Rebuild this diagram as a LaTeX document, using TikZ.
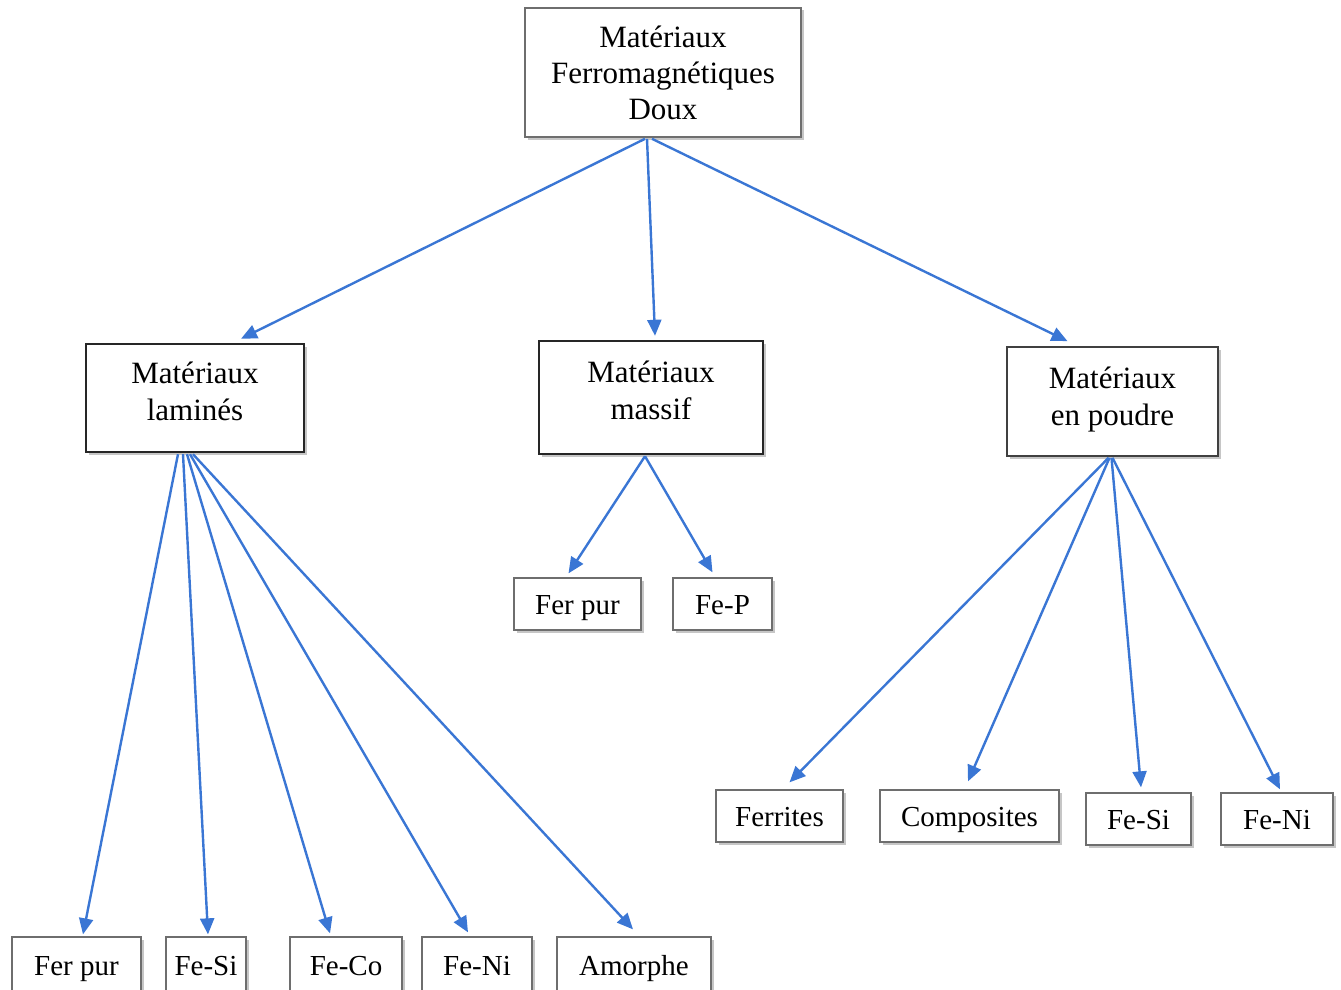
\documentclass[tikz,border=0pt]{standalone}
\usepackage{fontspec}
\setmainfont{Liberation Serif}
\usetikzlibrary{arrows.meta,shadows}
\definecolor{arrowblue}{RGB}{58,118,212}
\definecolor{boxedge}{RGB}{110,110,110}
\newcommand{\twolines}[3]{\raisebox{#1}[0pt][0pt]{\begin{tabular}{@{}c@{}}#2\\#3\end{tabular}}}
\tikzset{
  base/.style={fill=white, inner sep=0pt, align=center, anchor=center,
    drop shadow={shadow xshift=2.5pt, shadow yshift=-2.5pt, opacity=0.45, fill=gray}},
  topbox/.style={base, draw=boxedge, line width=1.6pt, font=\fontsize{31}{36}\selectfont},
  midbox/.style={base, draw=black!85, line width=2.4pt, font=\fontsize{31}{37}\selectfont},
  midboxb/.style={base, draw=black!75, line width=1.7pt, font=\fontsize{31}{37}\selectfont},
  leaf/.style={base, draw=boxedge, line width=1.3pt, font=\fontsize{29}{34}\selectfont,
    text height=25pt, text depth=4pt},
  conn/.style={draw=arrowblue, line width=2.4pt, -{Triangle[length=16pt,width=14pt]}}
}
\begin{document}
\begin{tikzpicture}[x=1pt,y=-1pt]
\useasboundingbox (0,0) rectangle (1341,990);
% top
\node[topbox, minimum width=276pt, minimum height=129pt] (top) at (663,72.5) {Matériaux\\Ferromagnétiques\\Doux};
% middle
\node[midbox, minimum width=218pt, minimum height=108pt] (lam) at (195,398) {\twolines{-3pt}{Matériaux}{laminés}};
\node[midbox, minimum width=224pt, minimum height=113pt] (mas) at (651,397.5) {\twolines{-2pt}{Matériaux}{massif}};
\node[midboxb, minimum width=211pt, minimum height=109pt] (pou) at (1112.5,401.5) {\twolines{-4pt}{Matériaux}{en poudre}};
% bottom row (laminés)
\node[leaf, minimum width=129pt, minimum height=55pt] (l1) at (76.5,964.5) {Fer pur};
\node[leaf, minimum width=80pt, minimum height=55pt] (l2) at (206,964.5) {Fe-Si};
\node[leaf, minimum width=112pt, minimum height=55pt] (l3) at (346,964.5) {Fe-Co};
\node[leaf, minimum width=110pt, minimum height=55pt] (l4) at (477,964.5) {Fe-Ni};
\node[leaf, minimum width=154pt, minimum height=55pt] (l5) at (634,964.5) {Amorphe};
% massif children
\node[leaf, minimum width=127pt, minimum height=52pt] (m1) at (577.5,604) {Fer pur};
\node[leaf, minimum width=99pt, minimum height=52pt] (m2) at (722.5,604) {Fe-P};
% poudre children
\node[leaf, minimum width=127pt, minimum height=52pt] (p1) at (779.5,816) {Ferrites};
\node[leaf, minimum width=179pt, minimum height=52pt] (p2) at (969.5,816) {Composites};
\node[leaf, minimum width=105pt, minimum height=52pt] (p3) at (1138.5,819) {Fe-Si};
\node[leaf, minimum width=112pt, minimum height=52pt] (p4) at (1277,819) {Fe-Ni};
% connectors from top
\draw[conn] ([xshift=-18pt,yshift=-1pt]top.south) -- ([xshift=46pt,yshift=4pt]lam.north);
\draw[conn] ([xshift=-16pt,yshift=-1pt]top.south) -- ([xshift=4pt,yshift=4pt]mas.north);
\draw[conn] ([xshift=-11pt,yshift=-1pt]top.south) -- ([xshift=-45pt,yshift=5pt]pou.north);
% laminés
\draw[conn] ([xshift=-17pt,yshift=-1pt]lam.south) -- ([xshift=6.5pt,yshift=2pt]l1.north);
\draw[conn] ([xshift=-12pt,yshift=-1pt]lam.south) -- ([xshift=2pt,yshift=2pt]l2.north);
\draw[conn] ([xshift=-8pt,yshift=-1pt]lam.south) -- ([xshift=-16pt,yshift=3pt]l3.north);
\draw[conn] ([xshift=-5pt,yshift=-1pt]lam.south) -- ([xshift=-9pt,yshift=4pt]l4.north);
\draw[conn] ([xshift=-2pt,yshift=-1pt]lam.south) -- ([xshift=-1pt,yshift=7pt]l5.north);
% massif
\draw[conn] ([xshift=-6pt,yshift=-1pt]mas.south) -- ([xshift=-9pt,yshift=4pt]m1.north);
\draw[conn] ([xshift=-6pt,yshift=-1pt]mas.south) -- ([xshift=-10pt,yshift=5pt]m2.north);
% poudre
\draw[conn] ([xshift=-4pt,yshift=-1pt]pou.south) -- ([xshift=10pt,yshift=7pt]p1.north);
\draw[conn] ([xshift=-3pt,yshift=-1pt]pou.south) -- ([xshift=-1.5pt,yshift=8pt]p2.north);
\draw[conn] ([xshift=-1pt,yshift=-1pt]pou.south) -- ([xshift=2.5pt,yshift=5pt]p3.north);
\draw[conn] ([xshift=0pt,yshift=-1pt]pou.south) -- ([xshift=3pt,yshift=3pt]p4.north);
\end{tikzpicture}
\end{document}
